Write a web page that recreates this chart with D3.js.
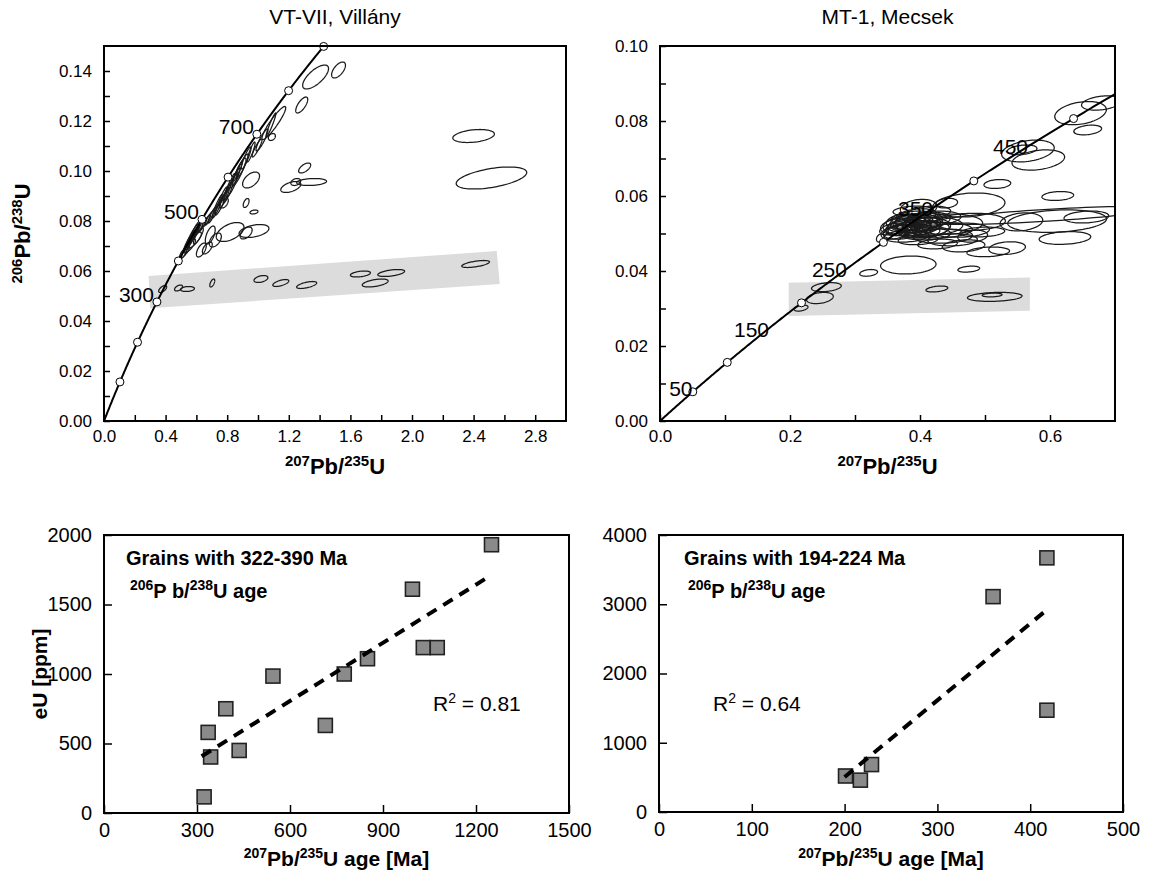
<!DOCTYPE html>
<html><head><meta charset="utf-8">
<script src="https://d3js.org/d3.v7.min.js"></script>
<style>
html,body{margin:0;padding:0;background:#fff;}
svg text{font-family:"Liberation Sans",Arial,Helvetica,sans-serif;fill:#000;}
</style></head><body>
<svg id="chart" width="1151" height="877"></svg>
<script>
// ================= DATA =================
// decay constants (concordia curve)
const lambda238 = 1.55125e-10, lambda235 = 9.8485e-10;

// ---- Panel A: VT-VII, Villány (concordia) ----
const aTitle = "VT-VII, Villány";
const aXDomain = [0, 3.0];
const aYDomain = [0, 0.15];
const aXLabels = [0, 0.4, 0.8, 1.2, 1.6, 2.0, 2.4, 2.8];
const aXMinor = [0, 0.2, 0.4, 0.6, 0.8, 1.0, 1.2, 1.4, 1.6, 1.8, 2.0, 2.2, 2.4, 2.6, 2.8];
const aYLabels = [0, 0.02, 0.04, 0.06, 0.08, 0.10, 0.12, 0.14];
const aYMinor = [0, 0.01, 0.02, 0.03, 0.04, 0.05, 0.06, 0.07, 0.08, 0.09, 0.10, 0.11, 0.12, 0.13, 0.14];
const aMarkerAges = [100, 200, 300, 400, 500, 600, 700, 800, 900];
const aLabelAges = [300, 500, 700];
const aMaxAge = 905;
// grey band (207/235, 206/238)
const aBand = [[0.29, 0.058], [2.55, 0.068], [2.57, 0.0548], [0.30, 0.0451]];
// error ellipses: [207Pb/235U, sx, 206Pb/238U, sy, rho]
const aEllipses = [
  [1.523,0.045,0.1404,0.0032,0.6],[1.374,0.084,0.1376,0.0048,0.7],[1.284,0.039,0.1264,0.0032,0.7],
  [1.103,0.077,0.1192,0.0066,0.92],[1.084,0.032,0.1184,0.0048,0.95],[1.090,0.023,0.1136,0.0014,0.3],
  [1.026,0.039,0.1124,0.0044,0.9],[0.994,0.032,0.1092,0.0036,0.9],[0.955,0.026,0.1076,0.0040,0.9],
  [0.923,0.032,0.1052,0.0044,0.9],[0.897,0.039,0.1020,0.0048,0.9],[0.877,0.045,0.0996,0.0056,0.9],
  [0.852,0.032,0.0972,0.0040,0.92],[0.832,0.039,0.0944,0.0048,0.9],[0.806,0.032,0.0916,0.0044,0.9],
  [0.781,0.032,0.0892,0.0040,0.9],[0.755,0.032,0.0864,0.0040,0.9],[0.729,0.026,0.0844,0.0032,0.9],
  [0.703,0.026,0.0824,0.0032,0.9],[0.870,0.030,0.1000,0.0040,0.95],[0.820,0.030,0.0950,0.0040,0.95],
  [0.770,0.028,0.0900,0.0036,0.95],[0.740,0.028,0.0870,0.0036,0.95],
  [0.955,0.055,0.0964,0.0032,0.5],[0.781,0.026,0.0872,0.0020,0.5],[0.923,0.019,0.0872,0.0018,0.5],
  [0.974,0.026,0.0836,0.0008,0.3],[1.303,0.039,0.1012,0.0020,0.6],[1.213,0.065,0.0936,0.0022,0.5],
  [1.348,0.097,0.0956,0.0014,0.2],[1.245,0.032,0.0956,0.0014,0.3],
  [2.400,0.135,0.1140,0.0026,0.3],[2.516,0.229,0.0972,0.0044,0.5],
  [0.529,0.026,0.0684,0.0032,0.9],[0.548,0.032,0.0712,0.0036,0.9],[0.568,0.032,0.0732,0.0032,0.9],
  [0.581,0.039,0.0748,0.0040,0.9],[0.594,0.032,0.0764,0.0036,0.9],[0.555,0.039,0.0700,0.0028,0.8],
  [0.587,0.045,0.0724,0.0032,0.8],[0.613,0.032,0.0740,0.0032,0.85],[0.523,0.032,0.0676,0.0024,0.8],
  [0.619,0.026,0.0772,0.0028,0.9],[0.639,0.026,0.0784,0.0028,0.9],[0.665,0.026,0.0800,0.0024,0.9],
  [0.684,0.026,0.0812,0.0028,0.9],[0.560,0.030,0.0720,0.0034,0.92],[0.575,0.030,0.0736,0.0034,0.92],
  [0.819,0.090,0.0756,0.0038,0.5],[0.974,0.097,0.0760,0.0026,0.4],[0.923,0.039,0.0752,0.0024,0.5],
  [0.690,0.032,0.0744,0.0036,0.6],[0.671,0.032,0.0692,0.0024,0.6],[0.632,0.032,0.0684,0.0028,0.6],
  [0.723,0.039,0.0724,0.0028,0.5],
  [0.381,0.026,0.0528,0.0014,0.6],[0.484,0.026,0.0532,0.0012,0.5],[0.542,0.045,0.0528,0.0010,0.2],
  [0.703,0.016,0.0552,0.0016,0.6],[1.019,0.045,0.0568,0.0014,0.4],[1.148,0.052,0.0552,0.0014,0.6],
  [1.316,0.065,0.0544,0.0014,0.6],[1.665,0.065,0.0588,0.0012,0.4],[1.865,0.087,0.0592,0.0014,0.5],
  [1.761,0.084,0.0552,0.0016,0.5],[2.413,0.090,0.0628,0.0014,0.6]
];

// ---- Panel B: MT-1, Mecsek (concordia) ----
const bTitle = "MT-1, Mecsek";
const bXDomain = [0, 0.7];
const bYDomain = [0, 0.10];
const bXLabels = [0, 0.2, 0.4, 0.6];
const bXMinor = [0, 0.1, 0.2, 0.3, 0.4, 0.5, 0.6];
const bYLabels = [0, 0.02, 0.04, 0.06, 0.08, 0.10];
const bYMinor = [0, 0.01, 0.02, 0.03, 0.04, 0.05, 0.06, 0.07, 0.08, 0.09, 0.10];
const bMarkerAges = [50, 100, 200, 300, 400, 500];
const bLabelAges = [50, 150, 250, 350, 450];
const bMaxAge = 560;
const bBand = [[0.198, 0.0369], [0.569, 0.0383], [0.569, 0.0294], [0.198, 0.0280]];
const bEllipses = [
  [0.647,0.0397,0.0821,0.0031,0.3],[0.658,0.0214,0.0776,0.0013,0.3],[0.679,0.0305,0.0848,0.0019,0.3],
  [0.566,0.0405,0.0720,0.0029,0.3],[0.582,0.0405,0.0696,0.0027,0.3],[0.557,0.0229,0.0723,0.0013,0.3],
  [0.519,0.0206,0.0632,0.0012,0.2],[0.612,0.0244,0.0600,0.0012,0.2],[0.475,0.0557,0.0576,0.0032,0.2],
  [0.556,0.0328,0.0531,0.0024,0.2],[0.656,0.0344,0.0544,0.0016,0.2],[0.623,0.0397,0.0488,0.0017,0.2],
  [0.590,0.1700,0.0548,0.0024,0.75],[0.611,0.0760,0.0533,0.0030,0.2],
  [0.467,0.0328,0.0467,0.0016,0.2],[0.534,0.0282,0.0461,0.0017,0.2],
  [0.505,0.0328,0.0451,0.0013,0.2],[0.382,0.0427,0.0416,0.0024,0.1],[0.475,0.0168,0.0405,0.0008,0.3],
  [0.321,0.0137,0.0395,0.0009,0.3],
  [0.426,0.0168,0.0352,0.0008,0.4],[0.515,0.0420,0.0331,0.0012,0.2],[0.511,0.0153,0.0336,0.0005,0.2],
  [0.256,0.0229,0.0357,0.0012,0.3],[0.246,0.0206,0.0328,0.0015,0.3],[0.217,0.0107,0.0301,0.0008,0.4],
  [0.339,0.0060,0.0488,0.0011,0.3],
  [0.389,0.0458,0.0523,0.0029,0.2],[0.397,0.0382,0.0531,0.0024,0.3],[0.382,0.0344,0.0515,0.0021,0.2],
  [0.405,0.0420,0.0515,0.0027,0.2],[0.374,0.0305,0.0504,0.0019,0.3],[0.412,0.0344,0.0536,0.0021,0.2],
  [0.394,0.0305,0.0547,0.0019,0.3],[0.366,0.0267,0.0520,0.0021,0.3],[0.420,0.0458,0.0520,0.0024,0.1],
  [0.385,0.0229,0.0536,0.0016,0.3],[0.400,0.0305,0.0504,0.0016,0.2],[0.409,0.0382,0.0499,0.0016,0.1],
  [0.427,0.0534,0.0509,0.0021,0.1],[0.379,0.0344,0.0493,0.0016,0.2],[0.435,0.0458,0.0493,0.0019,0.1],
  [0.389,0.0305,0.0560,0.0013,0.2],[0.443,0.0534,0.0525,0.0027,0.1],[0.415,0.0321,0.0557,0.0016,0.2],
  [0.363,0.0229,0.0504,0.0019,0.4],[0.397,0.0305,0.0483,0.0013,0.2],[0.450,0.0382,0.0483,0.0016,0.1],
  [0.398,0.0282,0.0568,0.0023,0.2],[0.441,0.0168,0.0581,0.0013,0.2],[0.427,0.0305,0.0472,0.0013,0.2],
  [0.371,0.0229,0.0533,0.0019,0.3],[0.421,0.0420,0.0541,0.0019,0.2],[0.461,0.0458,0.0509,0.0019,0.1],
  [0.478,0.0534,0.0531,0.0023,0.1],[0.481,0.0229,0.0493,0.0016,0.2],[0.496,0.0344,0.0504,0.0013,0.2],
  [0.376,0.0250,0.0512,0.0017,0.3],[0.383,0.0280,0.0525,0.0018,0.3],[0.391,0.0260,0.0518,0.0016,0.2],
  [0.402,0.0300,0.0526,0.0018,0.2],[0.370,0.0220,0.0509,0.0015,0.3],[0.395,0.0240,0.0509,0.0015,0.2],
  [0.387,0.0330,0.0530,0.0020,0.2],[0.378,0.0280,0.0522,0.0017,0.3],[0.406,0.0260,0.0520,0.0015,0.2],
  [0.358,0.0200,0.0512,0.0016,0.4],[0.410,0.0350,0.0512,0.0020,0.2],[0.392,0.0360,0.0540,0.0020,0.2]
];

// ---- Panel C: eU vs age, VT-VII ----
const cText1 = "Grains with 322-390 Ma";
const cR2 = "0.81";
const cXTicks = [0, 300, 600, 900, 1200, 1500];
const cYTicks = [0, 500, 1000, 1500, 2000];
const cAge = [1250, 995, 1030, 1075, 850, 775, 545, 393, 714, 336, 436, 344, 323];
const cEU  = [1930, 1610, 1190, 1190, 1110, 1000, 985, 750, 630, 580, 450, 403, 116];
const cTrendAge = [315, 1250];
const cTrendEU = [408, 1713];

// ---- Panel D: eU vs age, MT-1 ----
const dText1 = "Grains with 194-224 Ma";
const dR2 = "0.64";
const dXTicks = [0, 100, 200, 300, 400, 500];
const dYTicks = [0, 1000, 2000, 3000, 4000];
const dAge = [418, 360, 418, 229, 201, 217];
const dEU  = [3670, 3110, 1470, 685, 520, 460];
const dTrendAge = [200, 418];
const dTrendEU = [505, 2920];

// ================= DRAWING =================
const svg = d3.select("#chart");
const defs = svg.append("defs");

function rich(sel, parts, big, small) {
  let prevSup = false;
  parts.forEach(([t, sup]) => {
    const ts = sel.append("tspan").text(t).attr("font-size", sup ? small : big);
    if (sup && !prevSup) ts.attr("dy", -big * 0.38);
    if (!sup && prevSup) ts.attr("dy", big * 0.38);
    prevSup = sup;
  });
}

function ellipsePts(e, n) {
  const [cx, sx, cy, sy, r] = e;
  const q = Math.sqrt(1 - r * r);
  return d3.range(n).map(i => {
    const t = 2 * Math.PI * i / n;
    return [cx + sx * Math.cos(t), cy + sy * (r * Math.cos(t) + q * Math.sin(t))];
  });
}
const conc206 = t => Math.exp(lambda238 * t * 1e6) - 1;
const conc207 = t => Math.exp(lambda235 * t * 1e6) - 1;

function concordiaPanel(o) {
  const x = d3.scaleLinear().domain(o.xDomain).range([o.left, o.right]);
  const y = d3.scaleLinear().domain(o.yDomain).range([o.bottom, o.top]);
  const clipId = o.id + "-clip";
  defs.append("clipPath").attr("id", clipId).append("rect")
    .attr("x", o.left).attr("y", o.top).attr("width", o.right - o.left).attr("height", o.bottom - o.top);
  const g = svg.append("g");
  const inner = g.append("g").attr("clip-path", `url(#${clipId})`);
  const line = d3.line().x(d => x(d[0])).y(d => y(d[1]));

  inner.append("path").attr("d", line.curve(d3.curveLinearClosed)(o.band))
    .attr("fill", "#dcdcdc").attr("stroke", "none");

  inner.selectAll("path.ell").data(o.ellipses).enter().append("path").attr("class", "ell")
    .attr("d", e => d3.line().x(d => x(d[0])).y(d => y(d[1])).curve(d3.curveLinearClosed)(ellipsePts(e, 80)))
    .attr("fill", "none").attr("stroke", "#1a1a1a").attr("stroke-width", 1.25);

  const ages = d3.range(0, o.maxAge + 0.1, 2);
  inner.append("path")
    .attr("d", d3.line().x(t => x(conc207(t))).y(t => y(conc206(t)))(ages))
    .attr("fill", "none").attr("stroke", "#000").attr("stroke-width", 2);

  g.selectAll("circle.mk").data(o.markerAges).enter().append("circle").attr("class", "mk")
    .attr("cx", t => x(conc207(t))).attr("cy", t => y(conc206(t))).attr("r", 4)
    .attr("fill", "#fff").attr("stroke", "#000").attr("stroke-width", 1);

  g.selectAll("text.al").data(o.labelAges).enter().append("text").attr("class", "al")
    .attr("x", t => x(conc207(t)) + o.labDx).attr("y", t => y(conc206(t)) + o.labDy)
    .attr("text-anchor", o.labAnchor).attr("font-size", 21).text(t => t);

  const fmtX = d3.format(o.xFmt), fmtY = d3.format(".2f");
  const xa = g.append("g").attr("transform", `translate(0,${o.bottom})`)
    .call(d3.axisBottom(x).tickValues(o.xMinor).tickSize(-6).tickPadding(9)
      .tickFormat(d => o.xLabels.some(v => Math.abs(v - d) < 1e-9) ? fmtX(d) : ""));
  const ya = g.append("g").attr("transform", `translate(${o.left},0)`)
    .call(d3.axisLeft(y).tickValues(o.yMinor).tickSize(-6).tickPadding(12)
      .tickFormat(d => o.yLabels.some(v => Math.abs(v - d) < 1e-9) ? fmtY(d) : ""));
  [xa, ya].forEach(a => {
    a.select(".domain").remove();
    a.selectAll("line").attr("stroke", "#000").attr("stroke-width", 1.5);
    a.selectAll("text").attr("font-size", 17).attr("font-family", "Liberation Sans, Arial, sans-serif").attr("fill", "#000");
  });
  g.append("rect").attr("x", o.left).attr("y", o.top).attr("width", o.right - o.left).attr("height", o.bottom - o.top)
    .attr("fill", "none").attr("stroke", "#000").attr("stroke-width", 2);

  g.append("text").attr("x", (o.left + o.right) / 2).attr("y", 24).attr("text-anchor", "middle")
    .attr("font-size", 21).text(o.title);

  const xt = g.append("text").attr("x", (o.left + o.right) / 2).attr("y", 474).attr("text-anchor", "middle")
    .attr("font-weight", "bold");
  rich(xt, [["207", true], ["Pb/", false], ["235", true], ["U", false]], 22, 15);

  if (o.yTitle) {
    const yt = g.append("text").attr("transform", `translate(30,${(o.top + o.bottom) / 2}) rotate(-90)`)
      .attr("text-anchor", "middle").attr("font-weight", "bold");
    rich(yt, [["206", true], ["Pb/", false], ["238", true], ["U", false]], 22, 15);
  }
}

concordiaPanel({id: "a", left: 104, right: 566, top: 46, bottom: 421,
  xDomain: aXDomain, yDomain: aYDomain, xLabels: aXLabels, xMinor: aXMinor, yLabels: aYLabels, yMinor: aYMinor,
  xFmt: ".1f", band: aBand, ellipses: aEllipses, markerAges: aMarkerAges, labelAges: aLabelAges,
  maxAge: aMaxAge, labDx: -3, labDy: 0, labAnchor: "end", title: aTitle, yTitle: true});

concordiaPanel({id: "b", left: 660, right: 1115, top: 46, bottom: 421,
  xDomain: bXDomain, yDomain: bYDomain, xLabels: bXLabels, xMinor: bXMinor, yLabels: bYLabels, yMinor: bYMinor,
  xFmt: ".1f", band: bBand, ellipses: bEllipses, markerAges: bMarkerAges, labelAges: bLabelAges,
  maxAge: bMaxAge, labDx: -12, labDy: 4, labAnchor: "middle", title: bTitle, yTitle: false});

function scatterPanel(o) {
  const x = d3.scaleLinear().domain(o.xDomain).range([o.left, o.right]);
  const y = d3.scaleLinear().domain(o.yDomain).range([o.bottom, o.top]);
  const g = svg.append("g");
  const xa = g.append("g").attr("transform", `translate(0,${o.bottom})`)
    .call(d3.axisBottom(x).tickValues(o.xTicks).tickSize(-8).tickPadding(10).tickFormat(d3.format("d")));
  const ya = g.append("g").attr("transform", `translate(${o.left},0)`)
    .call(d3.axisLeft(y).tickValues(o.yTicks).tickSize(-8).tickPadding(12).tickFormat(d3.format("d")));
  [xa, ya].forEach(a => {
    a.select(".domain").remove();
    a.selectAll("line").attr("stroke", "#000").attr("stroke-width", 1.5);
    a.selectAll("text").attr("font-size", 20).attr("font-family", "Liberation Sans, Arial, sans-serif").attr("fill", "#000");
  });
  const pts = o.age.map((a, i) => [a, o.eu[i]]);
  const s = 14;
  g.selectAll("rect.pt").data(pts).enter().append("rect").attr("class", "pt")
    .attr("x", d => x(d[0]) - s / 2).attr("y", d => y(d[1]) - s / 2).attr("width", s).attr("height", s)
    .attr("fill", "#8a8a8a").attr("stroke", "#222").attr("stroke-width", 1.6);
  const tr = o.trendAge.map((a, i) => [a, o.trendEU[i]]);
  g.append("path").attr("d", d3.line().x(d => x(d[0])).y(d => y(d[1]))(tr))
    .attr("stroke", "#000").attr("stroke-width", 4).attr("stroke-dasharray", "11,8").attr("fill", "none");
  g.append("rect").attr("x", o.left).attr("y", o.top).attr("width", o.right - o.left).attr("height", o.bottom - o.top)
    .attr("fill", "none").attr("stroke", "#000").attr("stroke-width", 2);

  g.append("text").attr("x", o.left + o.t1dx).attr("y", o.top + 30).attr("font-weight", "bold")
    .attr("font-size", 20).text(o.text1);
  const t2 = g.append("text").attr("x", o.left + o.t2dx).attr("y", o.top + 63).attr("font-weight", "bold");
  rich(t2, [["206", true], ["P b/", false], ["238", true], ["U age", false]], 20, 14);
  const r2 = g.append("text").attr("x", o.r2x).attr("y", 711);
  rich(r2, [["R", false], ["2", true], [" = " + o.r2, false]], 21, 14);

  const xt = g.append("text").attr("x", (o.left + o.right) / 2).attr("y", 866).attr("text-anchor", "middle")
    .attr("font-weight", "bold");
  rich(xt, [["207", true], ["Pb/", false], ["235", true], ["U age [Ma]", false]], 21, 14);
  if (o.yTitle) {
    g.append("text").attr("transform", `translate(47,${(o.top + o.bottom) / 2}) rotate(-90)`)
      .attr("text-anchor", "middle").attr("font-weight", "bold").attr("font-size", 21).text(o.yTitle);
  }
}

scatterPanel({left: 104, right: 569, top: 535, bottom: 813, xDomain: [0, 1500], yDomain: [0, 2000],
  xTicks: cXTicks, yTicks: cYTicks, age: cAge, eu: cEU, trendAge: cTrendAge, trendEU: cTrendEU,
  text1: cText1, t1dx: 22, t2dx: 26, r2: cR2, r2x: 433, yTitle: "eU [ppm]"});
scatterPanel({left: 659, right: 1123, top: 535, bottom: 812, xDomain: [0, 500], yDomain: [0, 4000],
  xTicks: dXTicks, yTicks: dYTicks, age: dAge, eu: dEU, trendAge: dTrendAge, trendEU: dTrendEU,
  text1: dText1, t1dx: 25, t2dx: 29, r2: dR2, r2x: 713, yTitle: null});
</script>
</body></html>
